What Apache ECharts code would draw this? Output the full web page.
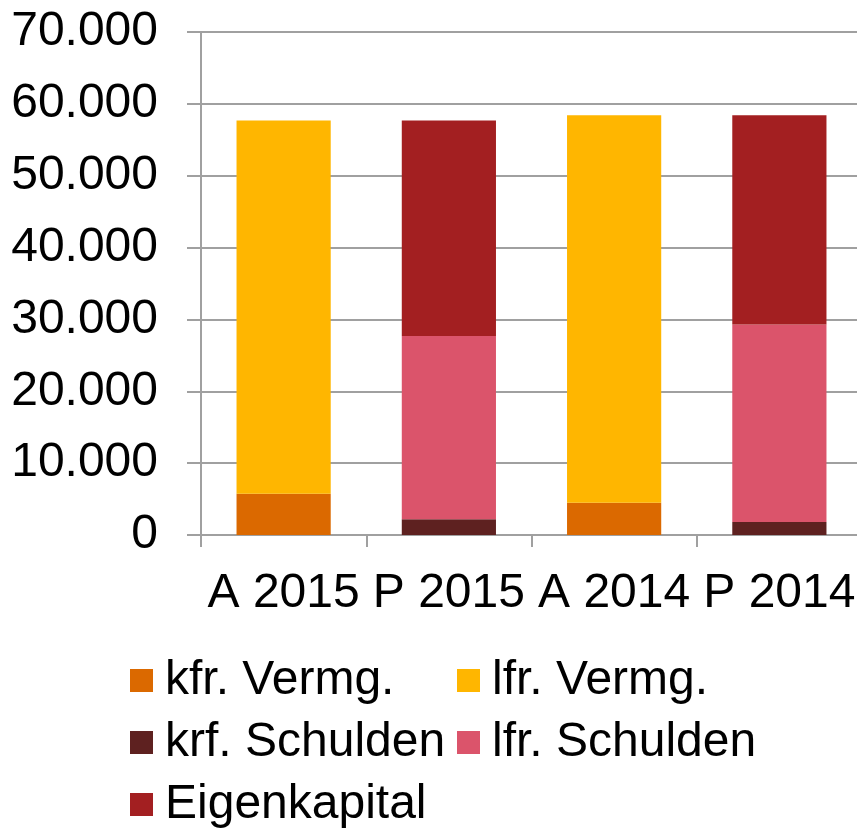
<!DOCTYPE html>
<html>
<head>
<meta charset="utf-8">
<script src="https://cdn.jsdelivr.net/npm/echarts@6/dist/echarts.min.js"></script>
<style>
html,body{margin:0;padding:0;background:#fff;overflow:hidden;width:857px;height:830px;}
#chart{width:862px;height:830px;}
</style>
</head>
<body>
<div id="chart"></div>
<script>
const categories = ['A 2015', 'P 2015', 'A 2014', 'P 2014'];
const kfrVermg = [5750, 0, 4500, 0];
const lfrVermg = [51950, 0, 53900, 0];
const krfSchulden = [0, 2180, 0, 1810];
const lfrSchulden = [0, 25520, 0, 27490];
const eigenkapital = [0, 30000, 0, 29100];
const seriesNames = ['kfr. Vermg.', 'lfr. Vermg.', 'krf. Schulden', 'lfr. Schulden', 'Eigenkapital'];
const seriesData = [kfrVermg, lfrVermg, krfSchulden, lfrSchulden, eigenkapital];
const seriesColors = ['#DB6900', '#FFB600', '#5E2120', '#DB546B', '#A31F21'];

const chart = echarts.init(document.getElementById('chart'), null, {renderer: 'canvas'});
const font = 'Liberation Sans, Arial, sans-serif';

chart.setOption({
  animation: false,
  grid: {left: 201, right: 0, top: 32, bottom: 295, containLabel: false},
  legend: {
    left: 130, top: 653, width: 700,
    padding: 0,
    orient: 'horizontal',
    itemWidth: 23, itemHeight: 23, itemGap: 7,
    icon: 'rect',
    data: seriesNames,
    textStyle: {
      fontFamily: font, fontSize: 48, color: '#000',
      width: 285, lineHeight: 55, padding: [0, 0, 0, 7]
    }
  },
  xAxis: {
    type: 'category',
    data: categories,
    axisLine: {show: true, lineStyle: {color: '#a0a0a0', width: 2}},
    axisTick: {show: true, length: 12, lineStyle: {color: '#a0a0a0', width: 2}},
    axisLabel: {fontFamily: font, fontSize: 48, color: '#000', margin: 35, interval: 0}
  },
  yAxis: {
    type: 'value',
    min: 0, max: 70000, interval: 10000,
    axisLine: {show: true, lineStyle: {color: '#a0a0a0', width: 2}},
    axisTick: {show: true, length: 14, lineStyle: {color: '#a0a0a0', width: 2}},
    splitLine: {show: true, lineStyle: {color: '#a0a0a0', width: 2}},
    axisLabel: {
      fontFamily: font, fontSize: 48, color: '#000', margin: 43,
      formatter: v => v === 0 ? '0' : (v / 1000).toFixed(0) + '.000'
    }
  },
  series: seriesNames.map((n, i) => ({
    name: n,
    type: 'bar',
    stack: 'total',
    barWidth: '57%',
    data: seriesData[i],
    itemStyle: {color: seriesColors[i]}
  }))
});
</script>
</body>
</html>
